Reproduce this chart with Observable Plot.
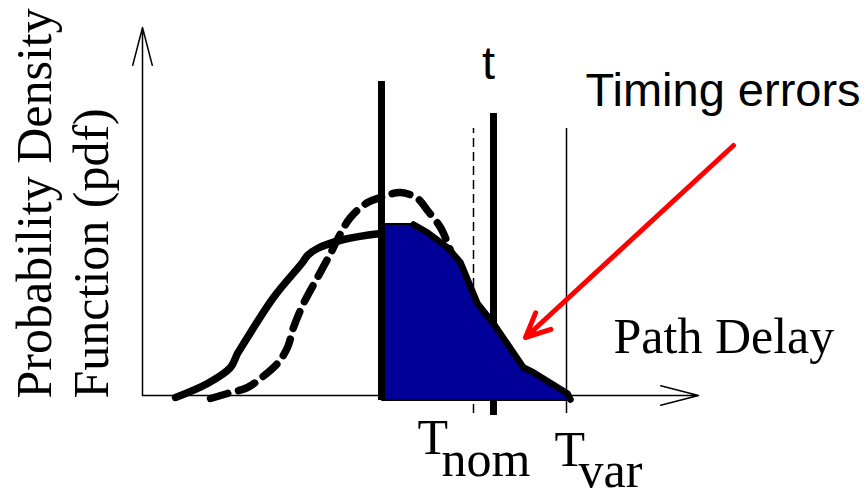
<!DOCTYPE html>
<html>
<head>
<meta charset="utf-8">
<script src="https://cdn.jsdelivr.net/npm/d3@7"></script>
<script src="https://cdn.jsdelivr.net/npm/@observablehq/plot@0.6"></script>
<style>
  html, body { margin: 0; padding: 0; background: #fff; }
  #chart svg { display: block; }
</style>
</head>
<body>
<div id="chart"></div>
<script>
// Nominal pdf (solid), left of the cut
const solidX = [3.3, 6.5, 8.8, 9.5, 10.0, 13.1, 16.0, 16.5, 17.5, 20.1, 23.8];
const solidY = [-0.2, 1.2, 2.8, 4.2, 5.0, 9.8, 13.3, 14.0, 14.7, 15.6, 16.2];
// Tail of the pdf beyond the cut (shaded timing errors)
const tailX = [24.0, 27.1, 28.5, 30.5, 31.8, 33.5, 35.1, 38.1, 39.1, 42.5, 42.8];
const tailY = [17.1, 17.1, 16.3, 14.8, 13.3, 9.2, 7.2, 2.8, 2.3, 0.2, -0.4];
// Varied pdf (dashed)
const dashX = [6.8, 8.5, 10.5, 11.8, 13.5, 14.5, 15.1, 16.1, 17.5, 18.8, 19.8, 20.8, 22.5, 23.8, 25.8, 27.5, 28.5, 29.8, 30.8];
const dashY = [-0.3, 0.2, 0.8, 1.7, 3.2, 4.8, 6.8, 9.2, 11.8, 14.2, 16.2, 17.8, 19.3, 19.8, 20.3, 19.7, 18.5, 16.8, 14.5];
// Vertical markers
const markerNames = ["cut", "T_nom", "t", "T_var"];
const markerX = [23.9, 33.1, 35.1, 42.4];
const markerTop = [31.4, 26.7, 28.2, 26.7];
const markerBottom = [-0.5, -1.8, -2.0, -1.8];
// Axis extents
const axisXEnd = 55.6;
const axisYEnd = 36.8;
// Red annotation arrow
const errArrow = {x1: 59.1, y1: 25.0, x2: 38.3, y2: 5.8};
const fillBase = -0.5;

const solid = solidX.map((x, i) => ({x, y: solidY[i]}));
const tail = tailX.map((x, i) => ({x, y: tailY[i]}));
const dashed = dashX.map((x, i) => ({x, y: dashY[i]}));
const markers = markerNames.map((name, i) => ({name, x: markerX[i], y1: markerBottom[i], y2: markerTop[i]}));
const m = name => markers.filter(d => d.name === name);

const serif = "'Liberation Serif', 'Times New Roman', serif";
const sans = "'Liberation Sans', Arial, sans-serif";

const plot = Plot.plot({
  width: 867,
  height: 491,
  margin: 0,
  style: {background: "white", overflow: "visible"},
  x: {domain: [-14.2, 72.5], axis: null},
  y: {domain: [-9.6, 39.5], axis: null},
  marks: [
    // axes with open arrowheads
    Plot.arrow([{x1: 0, y1: 0, x2: axisXEnd, y2: 0}], {x1: "x1", y1: "y1", x2: "x2", y2: "y2", stroke: "black", strokeWidth: 1.5, headAngle: 29, headLength: 39}),
    Plot.arrow([{x1: 0, y1: 0, x2: 0, y2: axisYEnd}], {x1: "x1", y1: "y1", x2: "x2", y2: "y2", stroke: "black", strokeWidth: 1.5, headAngle: 29, headLength: 39}),
    // vertical markers behind the fill
    Plot.ruleX(m("T_nom"), {x: "x", y1: "y1", y2: "y2", stroke: "black", strokeWidth: 1.5, strokeDasharray: "9,5"}),
    Plot.ruleX(m("t"), {x: "x", y1: "y1", y2: "y2", stroke: "black", strokeWidth: 7}),
    Plot.ruleX(m("T_var"), {x: "x", y1: "y1", y2: "y2", stroke: "black", strokeWidth: 1.5}),
    // dashed pdf
    Plot.line(dashed, {x: "x", y: "y", stroke: "black", strokeWidth: 7.5, strokeDasharray: "18,11", curve: "catmull-rom"}),
    // solid pdf (left part)
    Plot.line(solid, {x: "x", y: "y", stroke: "black", strokeWidth: 7.5, curve: "catmull-rom"}),
    // shaded timing-error region
    Plot.areaY(tail, {x: "x", y1: fillBase, y2: "y", fill: "#000099", stroke: "black", strokeWidth: 2}),
    Plot.line(tail.slice(1), {x: "x", y: "y", stroke: "black", strokeWidth: 6.5}),
    // cut line
    Plot.ruleX(m("cut"), {x: "x", y1: "y1", y2: "y2", stroke: "black", strokeWidth: 7}),
    // red arrow
    Plot.arrow([errArrow], {x1: "x1", y1: "y1", x2: "x2", y2: "y2", stroke: "#ff0000", strokeWidth: 5, headAngle: 50, headLength: 8}),
    // texts
    Plot.text(["Timing errors"], {x: 44.3, y: 29.0, text: d => d, textAnchor: "start", lineAnchor: "bottom", fontSize: 47, fontFamily: sans, fill: "black"}),
    Plot.text(["t"], {x: 34.6, y: 31.7, text: d => d, textAnchor: "middle", lineAnchor: "bottom", fontSize: 47, fontFamily: sans, fill: "black"}),
    Plot.text(["Path Delay"], {x: 47.1, y: 4.3, text: d => d, textAnchor: "start", lineAnchor: "bottom", fontSize: 50, fontFamily: serif, fill: "black"}),
    Plot.text(["T"], {x: 27.5, y: -5.8, text: d => d, textAnchor: "start", lineAnchor: "bottom", fontSize: 50, fontFamily: serif, fill: "black"}),
    Plot.text(["nom"], {x: 29.9, y: -8.0, text: d => d, textAnchor: "start", lineAnchor: "bottom", fontSize: 50, fontFamily: serif, fill: "black"}),
    Plot.text(["T"], {x: 41.2, y: -7.0, text: d => d, textAnchor: "start", lineAnchor: "bottom", fontSize: 50, fontFamily: serif, fill: "black"}),
    Plot.text(["var"], {x: 43.6, y: -9.1, text: d => d, textAnchor: "start", lineAnchor: "bottom", fontSize: 50, fontFamily: serif, fill: "black"}),
    Plot.text(["Probability Density"], {x: -9.2, y: -0.3, text: d => d, rotate: -90, textAnchor: "start", lineAnchor: "bottom", fontSize: 50, fontFamily: serif, fill: "black"}),
    Plot.text(["Function (pdf)"], {x: -3.5, y: -0.3, text: d => d, rotate: -90, textAnchor: "start", lineAnchor: "bottom", fontSize: 50, fontFamily: serif, fill: "black"})
  ]
});
document.getElementById("chart").appendChild(plot);
</script>
</body>
</html>
